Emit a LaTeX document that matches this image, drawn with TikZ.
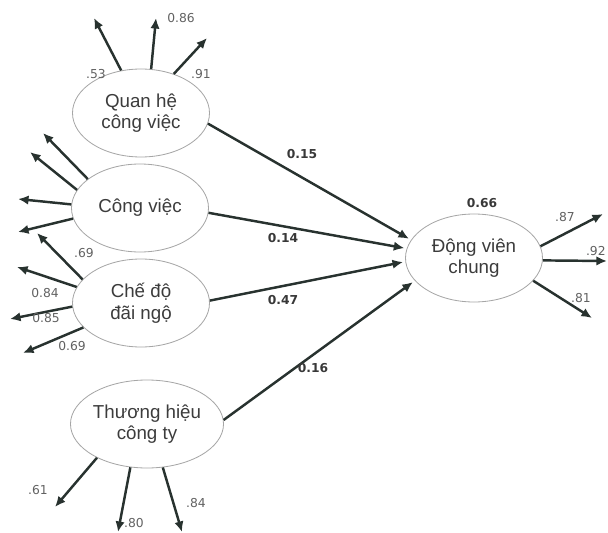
\documentclass[tikz,border=0pt]{standalone}
\usepackage{fontspec}
\setmainfont{Liberation Sans}
\newfontfamily\numfont{DejaVu Sans}
\usetikzlibrary{shapes.geometric,arrows.meta}
\definecolor{arrowc}{RGB}{40,50,47}
\definecolor{textc}{RGB}{60,60,60}

\begin{document}
\begin{tikzpicture}[x=0.03cm,y=-0.03cm,
  latent/.style={ellipse,draw=gray!70,line width=0.7pt,fill=white,inner sep=0pt,
    minimum width=4.11cm,minimum height=2.64cm,align=center,text=textc,
    font=\fontsize{16}{18.5}\selectfont},
  effect/.style={draw=arrowc,line width=2.1pt,-{Latex[length=9pt,width=8pt]}},
  coef/.style={font=\numfont\bfseries\fontsize{10.5}{12}\selectfont,text=black!78,inner sep=1pt},
  load/.style={font=\numfont\fontsize{10.5}{12}\selectfont,text=black!62,inner sep=1pt}]

\useasboundingbox (0,0) rectangle (608,533);

% latent constructs
\node[latent] (q) at (141,113) {Quan hệ\\công việc};
\node[latent] (c) at (140,208) {Công việc};
\node[latent] (d) at (141,303) {Chế độ\\đãi ngộ};
\node[latent] (t) at (147,424) {Thương hiệu\\công ty};
\node[latent] (e) at (474,258) {Động viên\\chung};

% free ends of the indicator arrows
\coordinate (q1) at (94,18);
\coordinate (q2) at (156,18);
\coordinate (q3) at (207,38);
\coordinate (c1) at (43,133);
\coordinate (c2) at (30,152);
\coordinate (c3) at (18,199);
\coordinate (c4) at (18,232);
\coordinate (d1) at (37,233);
\coordinate (d2) at (17,267);
\coordinate (d3) at (10,319);
\coordinate (d4) at (23,353);
\coordinate (t1) at (55,507);
\coordinate (t2) at (118,532);
\coordinate (t3) at (182,532);
\coordinate (e1) at (603,214);
\coordinate (e2) at (607,261);
\coordinate (e3) at (592,318);

% indicator arrows
\draw[effect] (q.115) -- (q1);
\draw[effect] (q.77) -- (q2);
\draw[effect] (q.50) -- (q3);
\draw[effect] (c.151) -- (c1);
\draw[effect] (c.164) -- (c2);
\draw[effect] (c.177) -- (c3);
\draw[effect] (c.189) -- (c4);
\draw[effect] (d.158) -- (d1);
\draw[effect] (d.166) -- (d2);
\draw[effect] (d.183) -- (d3);
\draw[effect] (d.203) -- (d4);
\draw[effect] (t.214) -- (t1);
\draw[effect] (t.249) -- (t2);
\draw[effect] (t.290) -- (t3);
\draw[effect] (e.10) -- (e1);
\draw[effect] (e.-2.5) -- (e2);
\draw[effect] (e.-21.5) -- (e3);

% structural paths
\draw[effect,shorten >=2pt] (q.-9) -- (e.164);
\draw[effect,shorten >=2pt] (c.-4) -- (e.172);
\draw[effect,shorten >=2pt] (d.2.6) -- (e.183);
\draw[effect,shorten >=2pt] (t.3.5) -- (e.201);

% path coefficients
\node[coef] (p15) at (302,154) {0.15};
\node[coef] (p14) at (283,238) {0.14};
\node[coef] (p47) at (283,300) {0.47};
\node[coef] (p16) at (313,368) {0.16};
\node[coef] (r2) at (482,203) {0.66};

% loadings
\node[load] (l1) at (96,74) {.53};
\node[load] (l2) at (181,18) {0.86};
\node[load] (l3) at (201,74) {.91};
\node[load] (l4) at (84,253) {.69};
\node[load] (l5) at (45,293) {0.84};
\node[load] (l6) at (46,318) {0.85};
\node[load] (l7) at (72,346) {0.69};
\node[load] (l8) at (38,490) {.61};
\node[load] (l9) at (134,523) {.80};
\node[load] (l10) at (196,503) {.84};
\node[load] (l11) at (565,217) {.87};
\node[load,anchor=east] (l12) at (607,251) {.92};
\node[load] (l13) at (581,298) {.81};
\end{tikzpicture}
\end{document}
